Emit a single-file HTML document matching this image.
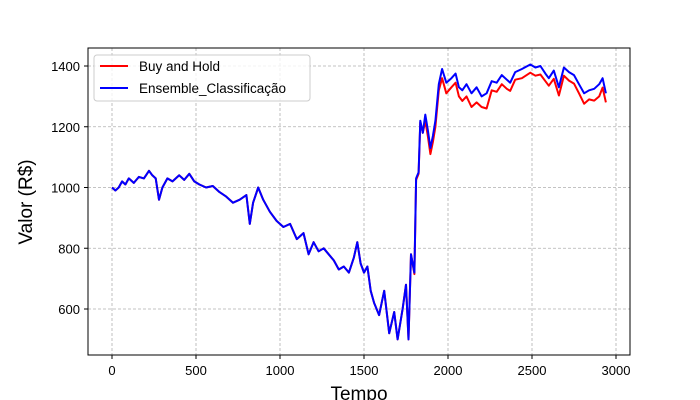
<!DOCTYPE html>
<html><head><meta charset="utf-8"><style>
body{margin:0;background:#fff;width:700px;height:400px;overflow:hidden}
svg{display:block;font-family:"Liberation Sans",sans-serif}
</style></head><body>
<svg id="chart" width="700" height="400" xmlns="http://www.w3.org/2000/svg">
<g id="grid"></g>
<g id="series"></g>
<rect x="88" y="48" width="542" height="307" fill="none" stroke="#000" stroke-width="1"/>
<g id="ticks"></g>
<text x="0" y="0" transform="translate(32,202) rotate(-90)" text-anchor="middle" font-size="19">Valor (R$)</text>
<text x="359" y="400" text-anchor="middle" font-size="19">Tempo</text>
<g>
<rect x="94" y="55" width="216" height="46" rx="3" fill="#fff" fill-opacity="0.8" stroke="#ccc"/>
<line x1="100" y1="66" x2="128" y2="66" stroke="#f00" stroke-width="2"/>
<text x="139" y="71" font-size="13.5">Buy and Hold</text>
<line x1="100" y1="88" x2="128" y2="88" stroke="#00f" stroke-width="2"/>
<text x="139" y="93" font-size="13.5">Ensemble_Classificação</text>
</g>
</svg>
<script>
const times=[0,20,40,60,80,100,130,160,190,220,240,260,280,300,330,360,400,430,460,490,520,560,600,640,680,720,760,800,820,840,870,900,940,980,1020,1060,1100,1140,1170,1200,1230,1260,1290,1320,1350,1380,1410,1440,1460,1480,1500,1520,1540,1560,1590,1620,1650,1680,1700,1730,1750,1765,1780,1800,1810,1825,1835,1850,1865,1880,1895,1910,1925,1945,1965,1990,2020,2045,2065,2085,2110,2140,2170,2200,2230,2260,2290,2320,2350,2370,2400,2440,2490,2520,2550,2580,2600,2630,2660,2690,2720,2750,2780,2810,2840,2870,2900,2920,2940];
const ensembleValues=[1000,990,1000,1020,1010,1030,1015,1035,1030,1055,1040,1030,960,1000,1030,1020,1040,1025,1045,1020,1010,1000,1005,985,970,950,960,975,880,950,1000,960,920,890,870,880,830,850,780,820,790,800,780,760,730,740,720,770,820,750,720,740,660,620,580,660,520,590,500,600,680,500,780,720,1030,1050,1220,1180,1240,1190,1130,1170,1220,1340,1390,1345,1360,1375,1330,1320,1340,1310,1330,1300,1310,1350,1345,1370,1355,1345,1380,1390,1405,1395,1400,1375,1360,1385,1330,1395,1380,1370,1340,1310,1320,1325,1340,1360,1310];
const buyHoldValues=[1000,990,1000,1020,1010,1030,1015,1035,1030,1055,1040,1030,960,1000,1030,1020,1040,1025,1045,1020,1010,1000,1005,985,970,950,960,975,880,950,1000,960,920,890,870,880,830,850,780,820,790,800,780,760,730,740,720,770,820,750,720,740,660,620,580,660,520,590,500,600,680,500,780,715,1025,1045,1215,1180,1220,1170,1110,1150,1200,1320,1360,1310,1330,1345,1300,1285,1300,1265,1280,1265,1260,1320,1315,1340,1325,1318,1355,1360,1378,1368,1372,1350,1335,1358,1303,1368,1352,1342,1310,1276,1290,1286,1300,1329,1280];
const xTicks=[0,500,1000,1500,2000,2500,3000];
const yTicks=[600,800,1000,1200,1400];
const NS="http://www.w3.org/2000/svg";
function xs(t){return 112+t*(616-112)/3000;}
function ys(v){return 309-(v-600)*(309-66)/800;}
const grid=document.getElementById('grid'),ticks=document.getElementById('ticks'),series=document.getElementById('series');
function mk(tag,attrs,parent){const e=document.createElementNS(NS,tag);for(const k in attrs)e.setAttribute(k,attrs[k]);parent.appendChild(e);return e;}
xTicks.forEach(t=>{const x=xs(t);
 const g=mk('line',{x1:x,y1:48,x2:x,y2:355,stroke:'#b0b0b0','stroke-dasharray':'3,2','stroke-width':0.8},grid);
 
 
 const tk=mk('line',{x1:x,y1:355,x2:x,y2:359,stroke:'#000'},ticks);
 
 
 const l=mk('text',{x:x,y:375,'text-anchor':'middle','font-size':13},ticks);l.textContent=t;
 
 
});
yTicks.forEach(v=>{const y=ys(v);
 const g=mk('line',{x1:88,y1:y,x2:630,y2:y,stroke:'#b0b0b0','stroke-dasharray':'3,2','stroke-width':0.8},grid);
 
 
 const tk=mk('line',{x1:84,y1:y,x2:88,y2:y,stroke:'#000'},ticks);
 
 
 const l=mk('text',{x:80,y:y+5,'text-anchor':'end','font-size':13},ticks);l.textContent=v;
 
 
});
function line(vals,color,name){
 const d=vals.map((v,i)=>(i?'L':'M')+xs(times[i]).toFixed(1)+','+ys(v).toFixed(1)).join('');
 const p=mk('path',{d:d,fill:'none',stroke:color,'stroke-width':2,'stroke-linejoin':'round'},series);
 
 
}
line(buyHoldValues,'#f00','buy-and-hold-line');
line(ensembleValues,'#00f','ensemble-line');
</script>
</body></html>
